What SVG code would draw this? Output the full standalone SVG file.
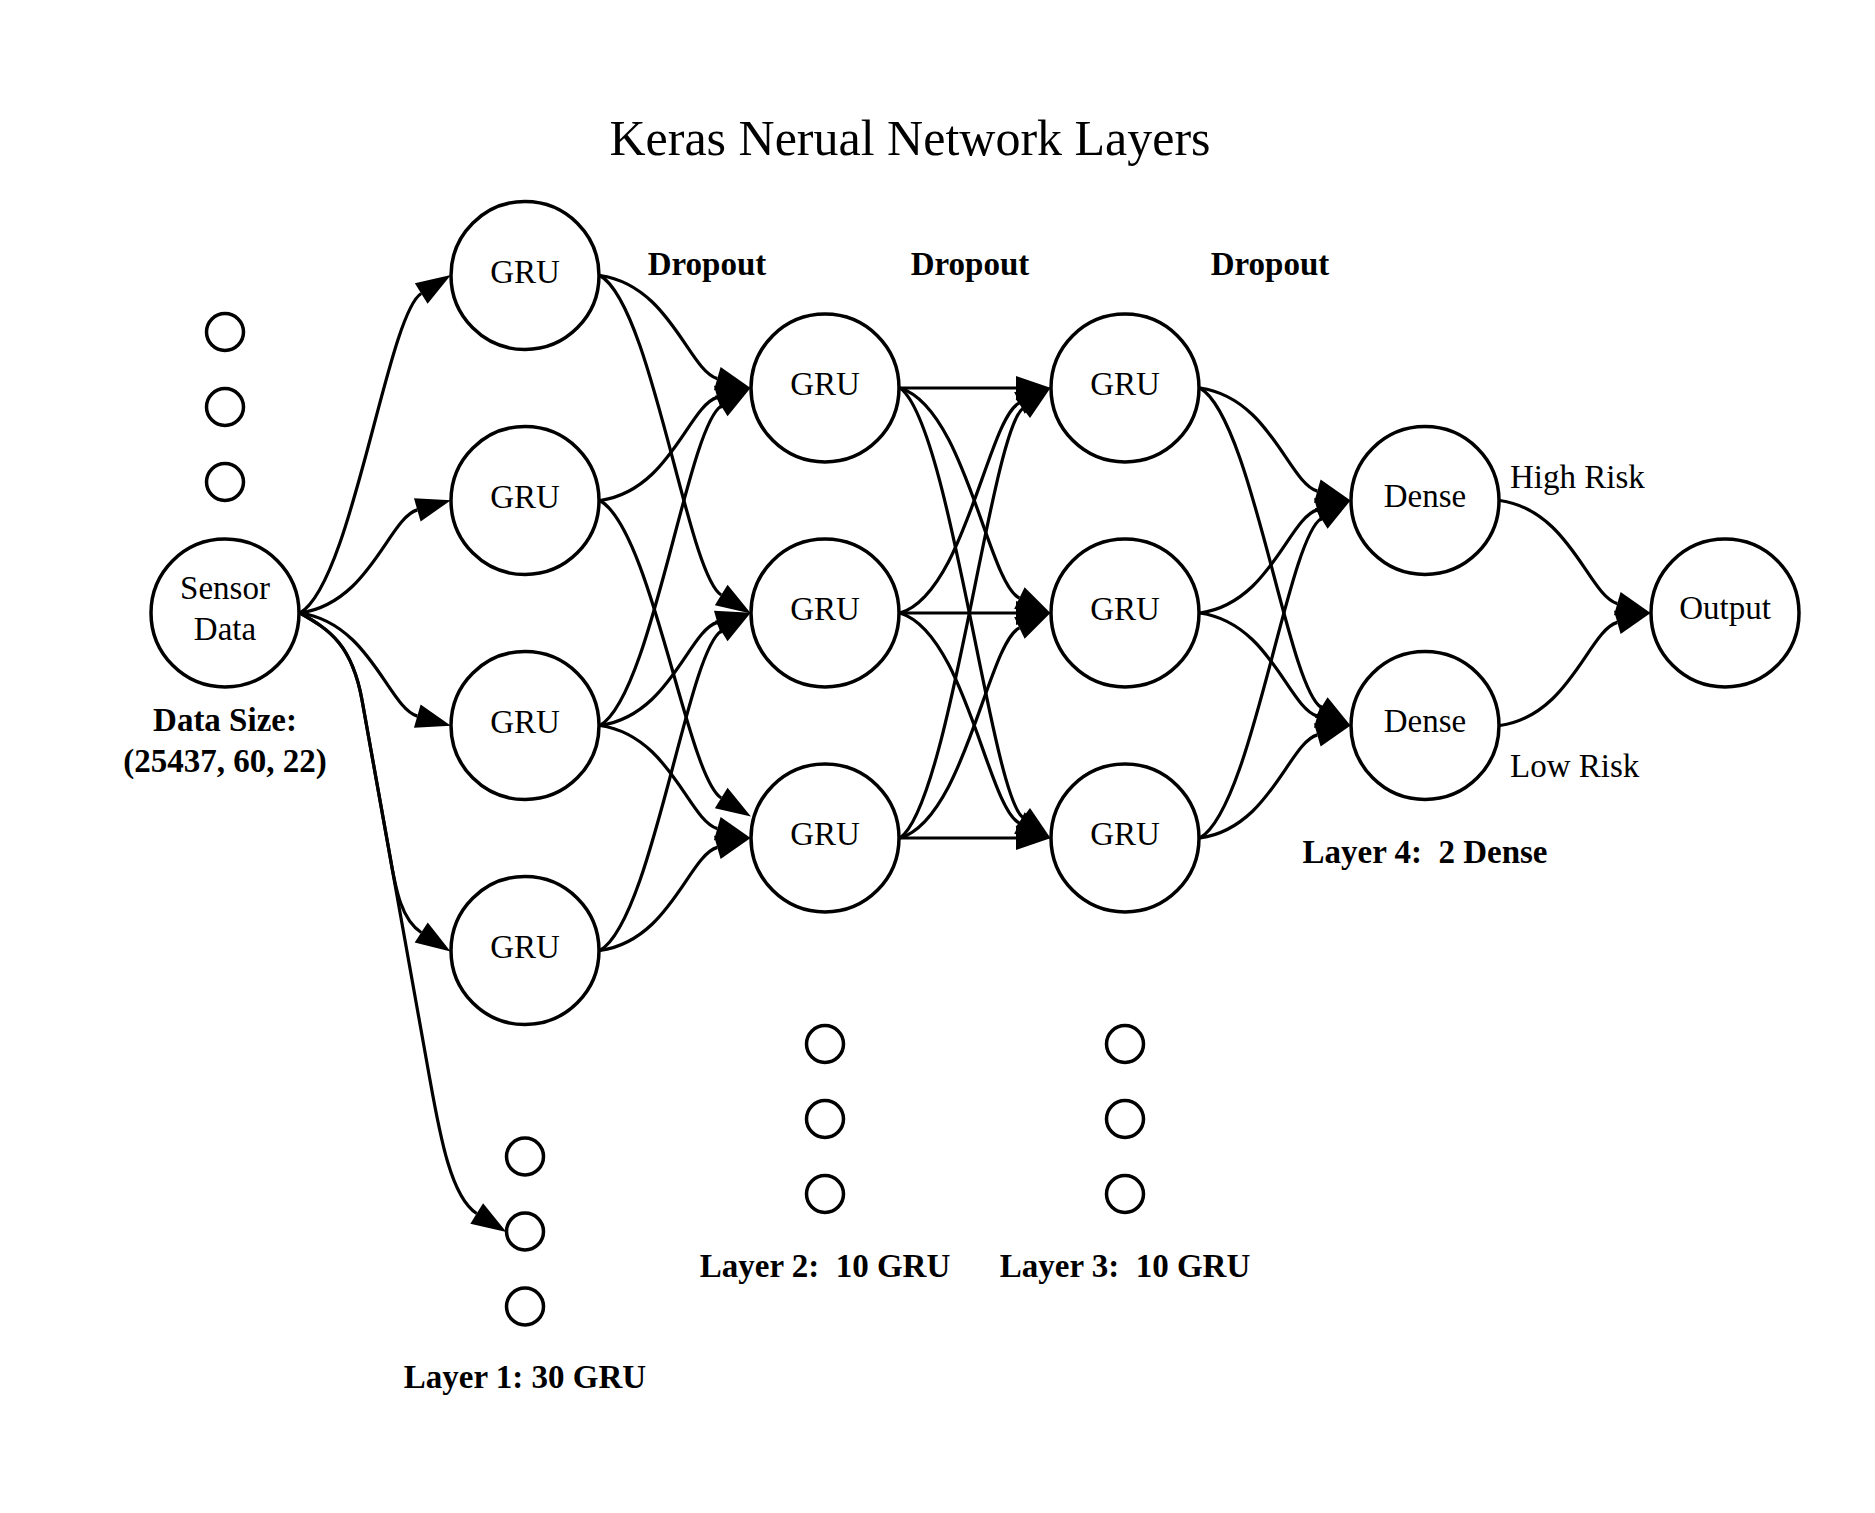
<svg xmlns="http://www.w3.org/2000/svg" width="1875" height="1513" viewBox="0 0 1875 1513">
<style>
text{font-family:"Liberation Serif","Times New Roman",serif;font-size:33px;fill:#000;text-anchor:middle}
.b{font-weight:bold}
.s{text-anchor:start}
.n{fill:#fff;stroke:#000;stroke-width:3.5}
.e{fill:none;stroke:#000;stroke-width:3.2;marker-end:url(#ah)}
</style>
<defs>
<marker id="ah" markerUnits="userSpaceOnUse" markerWidth="38" markerHeight="26" refX="0" refY="12" orient="auto" overflow="visible">
<path d="M0,0 L35,12 L0,24 Z" fill="#000"/>
</marker>
</defs>
<rect width="1875" height="1513" fill="#fff"/>
<text x="910" y="155" style="font-size:50px">Keras Nerual Network Layers</text>
<g id="connectors">
<path class="e" d="M300,613 C352,583 387.3,314.7 421.2,293.5"/>
<path class="e" d="M300,613 C370,603 388.5,518.2 417.3,509.9"/>
<path class="e" d="M300,613 C370,623 388.5,707.8 417.3,716.1"/>
<path class="e" d="M300,613 C330,630 352,645 362,700 L390,856 C396,892 402,920 421.2,932.5"/>
<path class="e" d="M300,613 C330,630 352,645 362,700 L430,1080 C440,1136 451.3,1197.6 476.7,1213.5"/>
<path class="e" d="M600,275.5 C670,285.5 688.5,370.3 717.3,378.6"/>
<path class="e" d="M600,275.5 C652,305.5 687.3,573.8 721.2,595"/>
<path class="e" d="M600,500.5 C670,490.5 688.5,405.7 717.3,397.4"/>
<path class="e" d="M600,500.5 C652,530.5 687.3,776.8 721.2,798"/>
<path class="e" d="M600,725.5 C652,695.5 687.3,427.2 721.2,406"/>
<path class="e" d="M600,725.5 C670,715.5 688.5,630.7 717.3,622.4"/>
<path class="e" d="M600,725.5 C670,735.5 688.5,820.3 717.3,828.6"/>
<path class="e" d="M600,950.5 C652,920.5 687.3,652.2 721.2,631"/>
<path class="e" d="M600,950.5 C670,940.5 688.5,855.7 717.3,847.4"/>
<path class="e" d="M900,388 L1016,388"/>
<path class="e" d="M900,388 C965,408 987.9,582.8 1019.4,598.1"/>
<path class="e" d="M900,388 C950,423 990.8,793.4 1022.8,817.5"/>
<path class="e" d="M900,613 C965,593 987.9,418.2 1019.4,402.9"/>
<path class="e" d="M900,613 L1016,613"/>
<path class="e" d="M900,613 C965,633 987.9,807.8 1019.4,823.1"/>
<path class="e" d="M900,838 C950,803 990.8,432.6 1022.8,408.5"/>
<path class="e" d="M900,838 C965,818 987.9,643.2 1019.4,627.9"/>
<path class="e" d="M900,838 L1016,838"/>
<path class="e" d="M1200,388 C1270,398 1288.5,482.8 1317.3,491.1"/>
<path class="e" d="M1200,388 C1252,418 1287.3,686.3 1321.2,707.5"/>
<path class="e" d="M1200,613 C1270,603 1288.5,518.2 1317.3,509.9"/>
<path class="e" d="M1200,613 C1270,623 1288.5,707.8 1317.3,716.1"/>
<path class="e" d="M1200,838 C1252,808 1287.3,539.7 1321.2,518.5"/>
<path class="e" d="M1200,838 C1270,828 1288.5,743.2 1317.3,734.9"/>
<path class="e" d="M1500,500.5 C1570,510.5 1588.5,595.3 1617.3,603.6"/>
<path class="e" d="M1500,725.5 C1570,715.5 1588.5,630.7 1617.3,622.4"/>
</g>
<g id="sensor"><circle class="n" cx="225" cy="613" r="74"/><text x="225" y="599">Sensor</text><text x="225" y="640">Data</text></g>
<g id="dots0"><circle class="n" cx="225" cy="332" r="18.5"/><circle class="n" cx="225" cy="407" r="18.5"/><circle class="n" cx="225" cy="482" r="18.5"/></g>
<g id="l1g1"><circle class="n" cx="525" cy="275.5" r="74"/><text x="525" y="283">GRU</text></g>
<g id="l1g2"><circle class="n" cx="525" cy="500.5" r="74"/><text x="525" y="508">GRU</text></g>
<g id="l1g3"><circle class="n" cx="525" cy="725.5" r="74"/><text x="525" y="733">GRU</text></g>
<g id="l1g4"><circle class="n" cx="525" cy="950.5" r="74"/><text x="525" y="958">GRU</text></g>
<g id="dots1"><circle class="n" cx="525" cy="1156.5" r="18.5"/><circle class="n" cx="525" cy="1231.5" r="18.5"/><circle class="n" cx="525" cy="1306.5" r="18.5"/></g>
<g id="l2g1"><circle class="n" cx="825" cy="388" r="74"/><text x="825" y="395">GRU</text></g>
<g id="l2g2"><circle class="n" cx="825" cy="613" r="74"/><text x="825" y="620">GRU</text></g>
<g id="l2g3"><circle class="n" cx="825" cy="838" r="74"/><text x="825" y="845">GRU</text></g>
<g id="dots2"><circle class="n" cx="825" cy="1044" r="18.5"/><circle class="n" cx="825" cy="1119" r="18.5"/><circle class="n" cx="825" cy="1194" r="18.5"/></g>
<g id="l3g1"><circle class="n" cx="1125" cy="388" r="74"/><text x="1125" y="395">GRU</text></g>
<g id="l3g2"><circle class="n" cx="1125" cy="613" r="74"/><text x="1125" y="620">GRU</text></g>
<g id="l3g3"><circle class="n" cx="1125" cy="838" r="74"/><text x="1125" y="845">GRU</text></g>
<g id="dots3"><circle class="n" cx="1125" cy="1044" r="18.5"/><circle class="n" cx="1125" cy="1119" r="18.5"/><circle class="n" cx="1125" cy="1194" r="18.5"/></g>
<g id="dense1"><circle class="n" cx="1425" cy="500.5" r="74"/><text x="1425" y="507">Dense</text></g>
<g id="dense2"><circle class="n" cx="1425" cy="725.5" r="74"/><text x="1425" y="732">Dense</text></g>
<g id="output"><circle class="n" cx="1725" cy="613" r="74"/><text x="1725" y="619">Output</text></g>
<g id="labels">
<text class="b" x="707" y="275">Dropout</text>
<text class="b" x="970" y="275">Dropout</text>
<text class="b" x="1270" y="275">Dropout</text>
<text class="b" x="225" y="731">Data Size:</text>
<text class="b" x="225" y="772">(25437, 60, 22)</text>
<text class="b" x="525" y="1388">Layer 1: 30 GRU</text>
<text class="b" x="825" y="1277" xml:space="preserve">Layer 2:  10 GRU</text>
<text class="b" x="1125" y="1277" xml:space="preserve">Layer 3:  10 GRU</text>
<text class="b" x="1425" y="863" xml:space="preserve">Layer 4:  2 Dense</text>
<text class="s" x="1510" y="488">High Risk</text>
<text class="s" x="1510" y="777">Low Risk</text>
</g>
</svg>
